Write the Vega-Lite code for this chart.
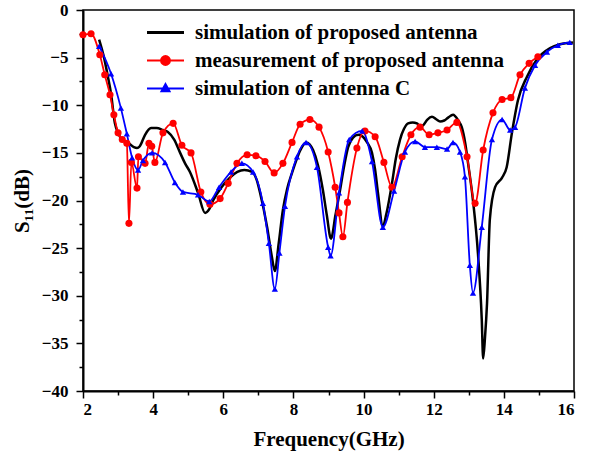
{
  "$schema": "https://vega.github.io/schema/vega-lite/v6.json",
  "width": 491,
  "height": 381,
  "autosize": {"type": "none"},
  "padding": {"left": 83, "top": 10, "right": 17, "bottom": 72},
  "background": "white",
  "config": {
    "view": {"stroke": "black", "strokeWidth": 1.5},
    "font": "Liberation Serif",
    "axis": {"grid": false, "domainColor": "black", "domainWidth": 2, "tickColor": "black", "tickWidth": 1.5, "labelColor": "black", "titleColor": "black", "labelFont": "Liberation Serif", "titleFont": "Liberation Serif", "labelFontWeight": "bold", "titleFontWeight": "bold", "labelFontSize": 17, "titleFontSize": 21}
  },
  "data": {
    "values": [
      {"s": "sim", "f": 2.46, "v": -3.1}, {"s": "sim", "f": 2.6, "v": -5.0}, {"s": "sim", "f": 2.71, "v": -7.0}, {"s": "sim", "f": 2.8, "v": -8.8}, {"s": "sim", "f": 2.91, "v": -11.9}, {"s": "sim", "f": 3.0, "v": -12.9}, {"s": "sim", "f": 3.11, "v": -13.6}, {"s": "sim", "f": 3.28, "v": -13.9}, {"s": "sim", "f": 3.45, "v": -14.4}, {"s": "sim", "f": 3.54, "v": -14.5}, {"s": "sim", "f": 3.62, "v": -14.3}, {"s": "sim", "f": 3.77, "v": -13.1}, {"s": "sim", "f": 3.94, "v": -12.4}, {"s": "sim", "f": 4.1, "v": -12.4}, {"s": "sim", "f": 4.28, "v": -12.6}, {"s": "sim", "f": 4.42, "v": -12.8}, {"s": "sim", "f": 4.6, "v": -13.6}, {"s": "sim", "f": 4.77, "v": -15.0}, {"s": "sim", "f": 4.91, "v": -16.1}, {"s": "sim", "f": 5.05, "v": -17.0}, {"s": "sim", "f": 5.28, "v": -19.2}, {"s": "sim", "f": 5.48, "v": -21.3}, {"s": "sim", "f": 5.6, "v": -20.9}, {"s": "sim", "f": 5.71, "v": -20.0}, {"s": "sim", "f": 5.95, "v": -18.6}, {"s": "sim", "f": 6.19, "v": -17.6}, {"s": "sim", "f": 6.4, "v": -17.0}, {"s": "sim", "f": 6.6, "v": -16.8}, {"s": "sim", "f": 6.82, "v": -17.0}, {"s": "sim", "f": 6.95, "v": -17.8}, {"s": "sim", "f": 7.05, "v": -19.2}, {"s": "sim", "f": 7.25, "v": -22.8}, {"s": "sim", "f": 7.38, "v": -25.8}, {"s": "sim", "f": 7.47, "v": -27.4}, {"s": "sim", "f": 7.58, "v": -24.5}, {"s": "sim", "f": 7.7, "v": -21.0}, {"s": "sim", "f": 7.82, "v": -18.8}, {"s": "sim", "f": 7.96, "v": -17.1}, {"s": "sim", "f": 8.1, "v": -15.6}, {"s": "sim", "f": 8.2, "v": -14.7}, {"s": "sim", "f": 8.36, "v": -13.9}, {"s": "sim", "f": 8.46, "v": -14.1}, {"s": "sim", "f": 8.56, "v": -14.7}, {"s": "sim", "f": 8.7, "v": -16.3}, {"s": "sim", "f": 8.84, "v": -18.9}, {"s": "sim", "f": 8.95, "v": -21.5}, {"s": "sim", "f": 9.07, "v": -24.0}, {"s": "sim", "f": 9.2, "v": -21.5}, {"s": "sim", "f": 9.33, "v": -18.9}, {"s": "sim", "f": 9.45, "v": -16.3}, {"s": "sim", "f": 9.56, "v": -14.4}, {"s": "sim", "f": 9.7, "v": -13.4}, {"s": "sim", "f": 9.85, "v": -13.1}, {"s": "sim", "f": 9.98, "v": -13.3}, {"s": "sim", "f": 10.1, "v": -13.9}, {"s": "sim", "f": 10.24, "v": -15.0}, {"s": "sim", "f": 10.33, "v": -16.8}, {"s": "sim", "f": 10.41, "v": -19.2}, {"s": "sim", "f": 10.55, "v": -22.7}, {"s": "sim", "f": 10.65, "v": -21.4}, {"s": "sim", "f": 10.81, "v": -18.2}, {"s": "sim", "f": 10.92, "v": -15.6}, {"s": "sim", "f": 11.04, "v": -13.6}, {"s": "sim", "f": 11.15, "v": -12.5}, {"s": "sim", "f": 11.27, "v": -11.9}, {"s": "sim", "f": 11.4, "v": -11.8}, {"s": "sim", "f": 11.52, "v": -11.9}, {"s": "sim", "f": 11.62, "v": -12.2}, {"s": "sim", "f": 11.7, "v": -12.1}, {"s": "sim", "f": 11.82, "v": -11.5}, {"s": "sim", "f": 11.95, "v": -11.2}, {"s": "sim", "f": 12.08, "v": -11.5}, {"s": "sim", "f": 12.18, "v": -11.7}, {"s": "sim", "f": 12.3, "v": -11.6}, {"s": "sim", "f": 12.41, "v": -11.3}, {"s": "sim", "f": 12.55, "v": -11.0}, {"s": "sim", "f": 12.7, "v": -11.6}, {"s": "sim", "f": 12.8, "v": -12.3}, {"s": "sim", "f": 12.9, "v": -14.0}, {"s": "sim", "f": 12.98, "v": -16.1}, {"s": "sim", "f": 13.12, "v": -20.0}, {"s": "sim", "f": 13.26, "v": -25.5}, {"s": "sim", "f": 13.37, "v": -32.5}, {"s": "sim", "f": 13.41, "v": -36.6}, {"s": "sim", "f": 13.46, "v": -34.5}, {"s": "sim", "f": 13.52, "v": -30.8}, {"s": "sim", "f": 13.6, "v": -22.0}, {"s": "sim", "f": 13.75, "v": -18.6}, {"s": "sim", "f": 13.95, "v": -17.6}, {"s": "sim", "f": 14.08, "v": -16.5}, {"s": "sim", "f": 14.23, "v": -12.9}, {"s": "sim", "f": 14.4, "v": -9.5}, {"s": "sim", "f": 14.66, "v": -7.0}, {"s": "sim", "f": 14.94, "v": -5.2}, {"s": "sim", "f": 15.32, "v": -4.0}, {"s": "sim", "f": 15.6, "v": -3.6}, {"s": "sim", "f": 15.97, "v": -3.4},
      {"s": "meas", "f": 2.0, "v": -2.6}, {"s": "meas", "f": 2.23, "v": -2.5}, {"s": "meas", "f": 2.48, "v": -4.7}, {"s": "meas", "f": 2.62, "v": -6.8}, {"s": "meas", "f": 2.77, "v": -8.9}, {"s": "meas", "f": 2.88, "v": -11.0}, {"s": "meas", "f": 3.0, "v": -12.9}, {"s": "meas", "f": 3.12, "v": -13.6}, {"s": "meas", "f": 3.25, "v": -14.0}, {"s": "meas", "f": 3.31, "v": -22.4}, {"s": "meas", "f": 3.38, "v": -16.0}, {"s": "meas", "f": 3.54, "v": -18.7}, {"s": "meas", "f": 3.58, "v": -15.4}, {"s": "meas", "f": 3.77, "v": -16.1}, {"s": "meas", "f": 3.88, "v": -14.0}, {"s": "meas", "f": 3.96, "v": -14.3}, {"s": "meas", "f": 4.05, "v": -16.0}, {"s": "meas", "f": 4.28, "v": -12.9}, {"s": "meas", "f": 4.57, "v": -11.9}, {"s": "meas", "f": 4.82, "v": -14.2}, {"s": "meas", "f": 5.08, "v": -15.0}, {"s": "meas", "f": 5.36, "v": -19.1}, {"s": "meas", "f": 5.62, "v": -20.4}, {"s": "meas", "f": 5.91, "v": -19.8}, {"s": "meas", "f": 6.14, "v": -18.2}, {"s": "meas", "f": 6.39, "v": -16.1}, {"s": "meas", "f": 6.68, "v": -15.2}, {"s": "meas", "f": 6.93, "v": -15.3}, {"s": "meas", "f": 7.19, "v": -15.9}, {"s": "meas", "f": 7.45, "v": -17.1}, {"s": "meas", "f": 7.7, "v": -16.1}, {"s": "meas", "f": 7.96, "v": -13.9}, {"s": "meas", "f": 8.19, "v": -12.0}, {"s": "meas", "f": 8.47, "v": -11.5}, {"s": "meas", "f": 8.73, "v": -12.3}, {"s": "meas", "f": 8.99, "v": -14.9}, {"s": "meas", "f": 9.19, "v": -18.6}, {"s": "meas", "f": 9.3, "v": -21.3}, {"s": "meas", "f": 9.41, "v": -23.8}, {"s": "meas", "f": 9.54, "v": -20.2}, {"s": "meas", "f": 9.81, "v": -14.5}, {"s": "meas", "f": 10.04, "v": -12.7}, {"s": "meas", "f": 10.33, "v": -13.3}, {"s": "meas", "f": 10.58, "v": -16.0}, {"s": "meas", "f": 10.81, "v": -18.6}, {"s": "meas", "f": 11.1, "v": -15.4}, {"s": "meas", "f": 11.35, "v": -13.1}, {"s": "meas", "f": 11.61, "v": -12.3}, {"s": "meas", "f": 11.87, "v": -13.1}, {"s": "meas", "f": 12.12, "v": -12.9}, {"s": "meas", "f": 12.38, "v": -12.6}, {"s": "meas", "f": 12.66, "v": -11.8}, {"s": "meas", "f": 12.95, "v": -15.4}, {"s": "meas", "f": 13.18, "v": -20.3}, {"s": "meas", "f": 13.41, "v": -14.7}, {"s": "meas", "f": 13.69, "v": -10.8}, {"s": "meas", "f": 13.95, "v": -9.4}, {"s": "meas", "f": 14.2, "v": -9.2}, {"s": "meas", "f": 14.46, "v": -6.8}, {"s": "meas", "f": 14.72, "v": -5.6}, {"s": "meas", "f": 14.97, "v": -4.9},
      {"s": "simC", "f": 2.46, "v": -3.8}, {"s": "simC", "f": 2.8, "v": -6.7}, {"s": "simC", "f": 3.08, "v": -10.3}, {"s": "simC", "f": 3.25, "v": -13.0}, {"s": "simC", "f": 3.4, "v": -15.5}, {"s": "simC", "f": 3.57, "v": -16.8}, {"s": "simC", "f": 3.71, "v": -15.8}, {"s": "simC", "f": 3.97, "v": -15.0}, {"s": "simC", "f": 4.34, "v": -16.0}, {"s": "simC", "f": 4.62, "v": -18.1}, {"s": "simC", "f": 4.85, "v": -19.1}, {"s": "simC", "f": 5.28, "v": -19.4}, {"s": "simC", "f": 5.6, "v": -20.1}, {"s": "simC", "f": 5.88, "v": -18.6}, {"s": "simC", "f": 6.22, "v": -17.0}, {"s": "simC", "f": 6.53, "v": -16.1}, {"s": "simC", "f": 6.85, "v": -17.0}, {"s": "simC", "f": 7.13, "v": -20.3}, {"s": "simC", "f": 7.3, "v": -24.5}, {"s": "simC", "f": 7.47, "v": -29.3}, {"s": "simC", "f": 7.6, "v": -25.5}, {"s": "simC", "f": 7.76, "v": -20.6}, {"s": "simC", "f": 8.1, "v": -15.4}, {"s": "simC", "f": 8.36, "v": -13.9}, {"s": "simC", "f": 8.67, "v": -16.5}, {"s": "simC", "f": 8.99, "v": -24.9}, {"s": "simC", "f": 9.06, "v": -25.8}, {"s": "simC", "f": 9.3, "v": -19.2}, {"s": "simC", "f": 9.59, "v": -13.6}, {"s": "simC", "f": 9.96, "v": -12.7}, {"s": "simC", "f": 10.24, "v": -15.9}, {"s": "simC", "f": 10.55, "v": -22.8}, {"s": "simC", "f": 10.87, "v": -19.0}, {"s": "simC", "f": 11.18, "v": -14.9}, {"s": "simC", "f": 11.47, "v": -13.8}, {"s": "simC", "f": 11.75, "v": -14.4}, {"s": "simC", "f": 12.09, "v": -14.4}, {"s": "simC", "f": 12.38, "v": -14.6}, {"s": "simC", "f": 12.55, "v": -13.9}, {"s": "simC", "f": 12.75, "v": -14.9}, {"s": "simC", "f": 12.89, "v": -17.5}, {"s": "simC", "f": 13.03, "v": -26.8}, {"s": "simC", "f": 13.12, "v": -29.7}, {"s": "simC", "f": 13.37, "v": -22.8}, {"s": "simC", "f": 13.66, "v": -13.6}, {"s": "simC", "f": 13.95, "v": -11.5}, {"s": "simC", "f": 14.18, "v": -12.6}, {"s": "simC", "f": 14.32, "v": -12.3}, {"s": "simC", "f": 14.6, "v": -8.2}, {"s": "simC", "f": 14.89, "v": -5.8}, {"s": "simC", "f": 15.23, "v": -4.4}, {"s": "simC", "f": 15.54, "v": -3.7}, {"s": "simC", "f": 15.88, "v": -3.4}
    ]
  },
  "resolve": {"axis": {"x": "independent", "y": "independent"}},
  "layer": [
    {
      "transform": [{"filter": "datum.s === 'sim'"}],
      "mark": {"type": "line", "interpolate": "monotone", "strokeWidth": 2.5},
      "encoding": {
        "x": {"field": "f", "type": "quantitative", "scale": {"domain": [2, 16], "nice": false, "zero": false},
          "axis": {"orient": "bottom", "values": [2, 4, 6, 8, 10, 12, 14, 16], "tickSize": 7, "labelPadding": 3, "title": "Frequency(GHz)", "titlePadding": 11}},
        "y": {"field": "v", "type": "quantitative", "scale": {"domain": [-40, 0], "nice": false, "zero": false},
          "axis": {"orient": "left", "values": [0, -5, -10, -15, -20, -25, -30, -35, -40], "tickSize": 7, "labelPadding": 8, "title": "S₁₁(dB)", "titlePadding": 9}},
        "color": {"field": "s", "type": "nominal",
          "scale": {"domain": ["sim", "meas", "simC"], "range": ["black", "#ff0000", "#0000ff"]},
          "legend": {
            "orient": "none", "legendX": 72, "legendY": 12, "title": null, "padding": 0,
            "labelFont": "Liberation Serif", "labelFontWeight": "bold", "labelFontSize": 21, "labelColor": "black", "labelLimit": 0,
            "symbolSize": 342, "labelOffset": 19, "rowPadding": 6,
            "labelExpr": "datum.value === 'sim' ? 'simulation of proposed antenna' : datum.value === 'meas' ? 'measurement of proposed antenna' : 'simulation of antenna C'",
            "encode": {"symbols": {"update": {
              "shape": {"signal": "datum.value === 'sim' ? 'M-2,0H2' : datum.value === 'meas' ? 'M-2,0H2M0.49,0A0.49,0.49 0 1,1 -0.49,0A0.49,0.49 0 1,1 0.49,0Z' : 'M-2,0H2M0,-0.5L0.45,0.3L-0.45,0.3Z'"},
              "fill": {"signal": "datum.value === 'sim' ? 'transparent' : datum.value === 'meas' ? '#ff0000' : '#0000ff'"},
              "strokeWidth": {"signal": "datum.value === 'sim' ? 3 : 1.8"}
            }}}
          }}
      }
    },
    {
      "transform": [{"filter": "datum.s === 'meas'"}],
      "mark": {"type": "line", "interpolate": "monotone", "strokeWidth": 1.8, "color": "#ff0000"},
      "encoding": {
        "x": {"field": "f", "type": "quantitative", "axis": {"orient": "bottom", "values": [3, 5, 7, 9, 11, 13, 15], "tickSize": 4, "labels": false, "domain": false, "title": null}},
        "y": {"field": "v", "type": "quantitative", "axis": {"orient": "left", "values": [-2.5, -7.5, -12.5, -17.5, -22.5, -27.5, -32.5, -37.5], "tickSize": 4, "labels": false, "domain": false, "title": null}}
      }
    },
    {
      "transform": [{"filter": "datum.s === 'simC'"}],
      "mark": {"type": "line", "interpolate": "monotone", "strokeWidth": 1.8, "color": "#0000ff"},
      "encoding": {
        "x": {"field": "f", "type": "quantitative", "axis": null},
        "y": {"field": "v", "type": "quantitative", "axis": null}
      }
    },
    {
      "transform": [{"filter": "datum.s === 'meas'"}],
      "mark": {"type": "point", "shape": "circle", "filled": true, "size": 50, "color": "#ff0000", "opacity": 1},
      "encoding": {
        "x": {"field": "f", "type": "quantitative", "axis": null},
        "y": {"field": "v", "type": "quantitative", "axis": null}
      }
    },
    {
      "transform": [{"filter": "datum.s === 'simC'"}],
      "mark": {"type": "point", "shape": "triangle-up", "filled": true, "size": 40, "color": "#0000ff", "opacity": 1},
      "encoding": {
        "x": {"field": "f", "type": "quantitative", "axis": null},
        "y": {"field": "v", "type": "quantitative", "axis": null}
      }
    }
  ]
}
